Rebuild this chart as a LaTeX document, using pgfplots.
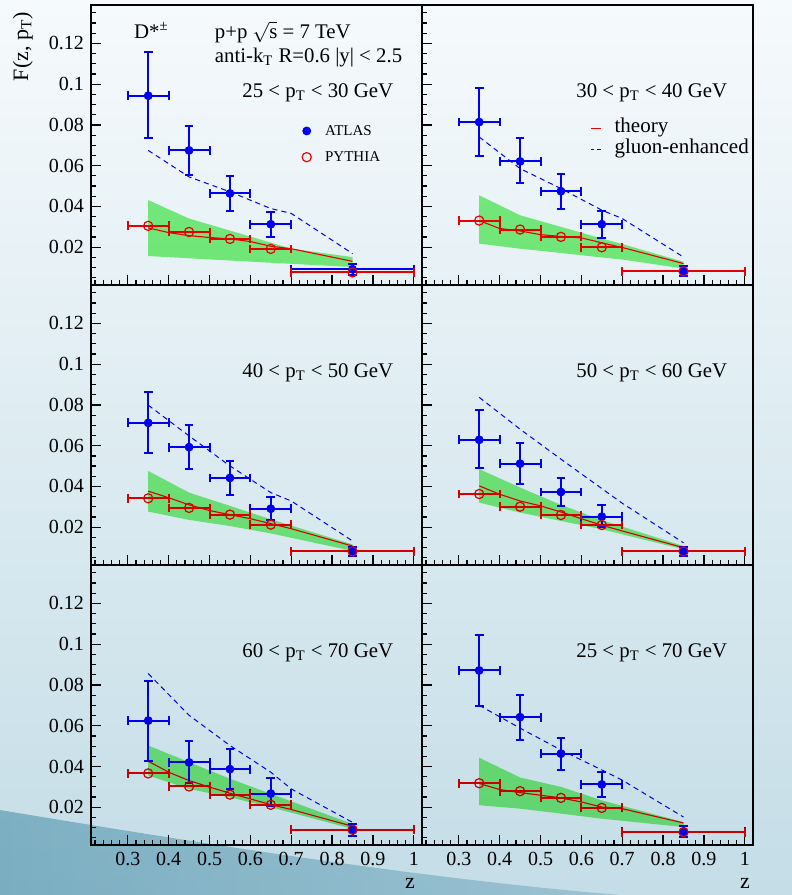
\documentclass[border=0pt]{standalone}
\usepackage{fontspec}
\setmainfont{Liberation Serif}
\usepackage{pgfplots}
\pgfplotsset{compat=1.18}
\usepgfplotslibrary{fillbetween}
\definecolor{bandgreen}{RGB}{125,243,125}
\definecolor{bgtop}{RGB}{246,250,252}
\definecolor{bgmid}{RGB}{234,243,247}
\definecolor{bgbot}{RGB}{196,221,231}
\definecolor{tealA}{RGB}{136,188,203}
\definecolor{tealB}{RGB}{190,218,228}
\newcommand{\lbl}{\fontsize{10.4}{12}\selectfont}
\pgfplotsset{
  panel/.style={
    scale only axis, width=165.5pt, height=140pt, anchor=north west,
    xmin=0.21, xmax=1.02, ymin=0.0015, ymax=0.1388,
    xtick={0.3,0.4,0.5,0.6,0.7,0.8,0.9,1.0},
    minor xtick={0.22,0.24,...,1.01},
    ytick={0.02,0.04,0.06,0.08,0.1,0.12},
    minor ytick={0.005,0.01,...,0.136},
    tick pos=left, tick align=inside,
    major tick length=5pt, minor tick length=2.5pt,
    every tick/.style={black, line width=0.6pt},
    axis line style={line width=1pt},
    /pgf/number format/assume math mode=true,
    /pgf/number format/fixed,
    /pgf/number format/precision=2,
    tick label style={font=\fontsize{10}{12}\selectfont},
  },
  atlas/.style={only marks, mark=*, mark size=2pt, color=blue, mark options={fill=blue},
    error bars/x dir=both, error bars/x explicit, error bars/y dir=both, error bars/y explicit,
    error bars/error bar style={line width=1pt},
    error bars/error mark=-,
    error bars/error mark options={rotate=90, mark size=2.2pt, line width=1pt}},
  pythia/.style={only marks, mark=o, mark size=2.3pt, color=red, mark options={line width=0.6pt, fill=none},
    error bars/x dir=both, error bars/x explicit,
    error bars/error bar style={line width=1pt},
    error bars/error mark=-,
    error bars/error mark options={rotate=90, mark size=2.2pt, line width=1pt}},
  theory/.style={red, line width=0.55pt, no marks},
  gluon/.style={blue, line width=0.5pt, dash pattern=on 2.6pt off 2pt, no marks},
  band/.style={fill=bandgreen, draw=none},
  mklegend/.style={legend image code/.code={\path (0pt,0pt) (16pt,0pt); \draw[##1] plot coordinates {(8pt,0pt)};}},
  lnlegend/.style={legend image code/.code={\path (0pt,0pt) (10.5pt,0pt); \draw[##1] (0pt,0pt) -- (5pt,0pt);}},
  gllegend/.style={legend image code/.code={\path (0pt,0pt) (10.5pt,0pt); \draw[##1, dash pattern=on 1.6pt off 1.6pt] (0pt,0pt) -- (4.8pt,0pt);}},
}
\begin{document}
\begin{tikzpicture}

% ---------- Panel A: 25-30 ----------
\begin{axis}[panel, at={(45.5pt,-2.5pt)}, xticklabels={},
  legend style={at={(rel axis cs:0.601,0.589)}, anchor=north west, draw=none, fill=none, inner sep=0pt,
    font=\fontsize{7.5}{9}\selectfont, row sep=2.6pt, nodes={inner sep=1pt, text height=0.65em, text depth=0.2em}},
  legend cell align=left]
\addplot[name path=hiA, draw=none, forget plot] table[x=x,y=hi] {
x lo hi
0.35 0.0157 0.0431
0.45 0.0146 0.0341
0.55 0.0135 0.0282
0.65 0.0124 0.0223
0.70 0.0119 0.0193
0.85 0.0103 0.0152
};
\addplot[name path=loA, draw=none, forget plot] table[x=x,y=lo] {
x lo hi
0.35 0.0157 0.0431
0.45 0.0146 0.0341
0.55 0.0135 0.0282
0.65 0.0124 0.0223
0.70 0.0119 0.0193
0.85 0.0103 0.0152
};
\addplot[band, forget plot] fill between[of=hiA and loA];
\addplot[theory, forget plot] table {
0.35 0.0295
0.40 0.0272
0.45 0.0257
0.50 0.0248
0.55 0.0241
0.60 0.0228
0.65 0.0205
0.70 0.0193
0.85 0.0131
};
\addplot[gluon, forget plot] table {
0.35 0.0675
0.45 0.0545
0.55 0.0472
0.65 0.0390
0.70 0.0366
0.85 0.0169
};
\addplot[atlas, mklegend] table[x=x,y=y,x error=ex,y error plus=ep,y error minus=em] {
x y ex ep em
0.35 0.0943 0.05 0.0214 0.0209
0.45 0.0675 0.05 0.0122 0.0120
0.55 0.0464 0.05 0.0086 0.0086
0.65 0.0313 0.05 0.0062 0.0064
0.85 0.0092 0.15 0.0028 0.0028
};
\addlegendentry{ATLAS}
\addplot[pythia, mklegend] table[x=x,y=y,x error=ex] {
x y ex
0.35 0.0305 0.05
0.45 0.0275 0.05
0.55 0.0241 0.05
0.65 0.0192 0.05
0.85 0.0077 0.15
};
\addlegendentry{PYTHIA}
\node[anchor=base west, font=\lbl] at (rel axis cs:0.109,0.882) {D*\textsuperscript{±}};
\node[anchor=base west, font=\lbl] at (rel axis cs:0.353,0.882) {p+p $\sqrt{\mbox{s}}$ = 7 TeV};
\node[anchor=base west, font=\lbl] at (rel axis cs:0.353,0.793) {anti-k\textsubscript{T} R=0.6 |y| < 2.5};
\node[anchor=base east, font=\lbl] at (rel axis cs:0.934,0.671) {25 < p\textsubscript{T} < 30 GeV};
\end{axis}

% ---------- Panel B: 30-40 ----------
\begin{axis}[panel, at={(211pt,-2.5pt)}, xticklabels={}, yticklabels={},
  legend style={at={(rel axis cs:0.508,0.599)}, anchor=north west, draw=none, fill=none, inner sep=0pt,
    font=\fontsize{10.5}{12}\selectfont, row sep=0pt, nodes={inner sep=1pt, text height=0.65em, text depth=0.2em}},
  legend cell align=left]
\addplot[name path=hiB, draw=none, forget plot] table[x=x,y=hi] {
x lo hi
0.35 0.0218 0.0455
0.45 0.0193 0.0357
0.55 0.0172 0.0300
0.65 0.0150 0.0243
0.70 0.0140 0.0216
0.85 0.0096 0.0129
};
\addplot[name path=loB, draw=none, forget plot] table[x=x,y=lo] {
x lo hi
0.35 0.0218 0.0455
0.45 0.0193 0.0357
0.55 0.0172 0.0300
0.65 0.0150 0.0243
0.70 0.0140 0.0216
0.85 0.0096 0.0129
};
\addplot[band, forget plot] fill between[of=hiB and loB];
\addplot[theory, lnlegend] table {
0.35 0.0331
0.40 0.0292
0.45 0.0280
0.50 0.0262
0.55 0.0253
0.60 0.0246
0.65 0.0222
0.70 0.0199
0.85 0.0120
};
\addlegendentry{theory}
\addplot[gluon, gllegend] table {
0.35 0.0741
0.45 0.0586
0.55 0.0488
0.65 0.0382
0.70 0.0341
0.85 0.0152
};
\addlegendentry{gluon-enhanced}
\addplot[atlas, forget plot] table[x=x,y=y,x error=ex,y error plus=ep,y error minus=em] {
x y ex ep em
0.35 0.0814 0.05 0.0168 0.0166
0.45 0.0621 0.05 0.0113 0.0108
0.55 0.0475 0.05 0.0083 0.0085
0.65 0.0313 0.05 0.0067 0.0069
0.85 0.0082 0.15 0.0025 0.0025
};
\addplot[pythia, forget plot] table[x=x,y=y,x error=ex] {
x y ex
0.35 0.0331 0.05
0.45 0.0287 0.05
0.55 0.0251 0.05
0.65 0.0200 0.05
0.85 0.0082 0.15
};
\node[anchor=base east, font=\lbl] at (rel axis cs:0.943,0.671) {30 < p\textsubscript{T} < 40 GeV};
\end{axis}

% ---------- Panel C: 40-50 ----------
\begin{axis}[panel, at={(45.5pt,-142.5pt)}, xticklabels={}]
\addplot[name path=hiC, draw=none, forget plot] table[x=x,y=hi] {
x lo hi
0.35 0.0277 0.0476
0.45 0.0236 0.0370
0.55 0.0206 0.0305
0.65 0.0170 0.0239
0.85 0.0084 0.0116
};
\addplot[name path=loC, draw=none, forget plot] table[x=x,y=lo] {
x lo hi
0.35 0.0277 0.0476
0.45 0.0236 0.0370
0.55 0.0206 0.0305
0.65 0.0170 0.0239
0.85 0.0084 0.0116
};
\addplot[band, forget plot] fill between[of=hiC and loC];
\addplot[theory, forget plot] table {
0.35 0.0377
0.40 0.0345
0.45 0.0310
0.50 0.0282
0.55 0.0262
0.60 0.0242
0.65 0.0218
0.70 0.0193
0.85 0.0108
};
\addplot[gluon, forget plot] table {
0.35 0.0799
0.45 0.0648
0.55 0.0501
0.65 0.0370
0.70 0.0329
0.85 0.0133
};
\addplot[atlas, forget plot] table[x=x,y=y,x error=ex,y error plus=ep,y error minus=em] {
x y ex ep em
0.35 0.0712 0.05 0.0152 0.0150
0.45 0.0593 0.05 0.0108 0.0108
0.55 0.0442 0.05 0.0084 0.0083
0.65 0.0291 0.05 0.0059 0.0055
0.85 0.0082 0.15 0.0022 0.0022
};
\addplot[pythia, forget plot] table[x=x,y=y,x error=ex] {
x y ex
0.35 0.0342 0.05
0.45 0.0295 0.05
0.55 0.0262 0.05
0.65 0.0213 0.05
0.85 0.0082 0.15
};
\node[anchor=base east, font=\lbl] at (rel axis cs:0.934,0.668) {40 < p\textsubscript{T} < 50 GeV};
\end{axis}

% ---------- Panel D: 50-60 ----------
\begin{axis}[panel, at={(211pt,-142.5pt)}, xticklabels={}, yticklabels={}]
\addplot[name path=hiD, draw=none, forget plot] table[x=x,y=hi] {
x lo hi
0.35 0.0321 0.0485
0.45 0.0272 0.0395
0.55 0.0231 0.0310
0.65 0.0190 0.0235
0.85 0.0092 0.0108
};
\addplot[name path=loD, draw=none, forget plot] table[x=x,y=lo] {
x lo hi
0.35 0.0321 0.0485
0.45 0.0272 0.0395
0.55 0.0231 0.0310
0.65 0.0190 0.0235
0.85 0.0092 0.0108
};
\addplot[band, forget plot] fill between[of=hiD and loD];
\addplot[theory, forget plot] table {
0.35 0.0403
0.40 0.0362
0.45 0.0329
0.50 0.0305
0.55 0.0275
0.60 0.0242
0.65 0.0210
0.70 0.0182
0.85 0.0100
};
\addplot[gluon, forget plot] table {
0.35 0.0837
0.45 0.0681
0.55 0.0534
0.65 0.0390
0.70 0.0318
0.85 0.0124
};
\addplot[atlas, forget plot] table[x=x,y=y,x error=ex,y error plus=ep,y error minus=em] {
x y ex ep em
0.35 0.0629 0.05 0.0145 0.0139
0.45 0.0512 0.05 0.0102 0.0099
0.55 0.0373 0.05 0.0067 0.0068
0.65 0.0252 0.05 0.0056 0.0052
0.85 0.0082 0.15 0.0022 0.0022
};
\addplot[pythia, forget plot] table[x=x,y=y,x error=ex] {
x y ex
0.35 0.0363 0.05
0.45 0.0301 0.05
0.55 0.0260 0.05
0.65 0.0211 0.05
0.85 0.0082 0.15
};
\node[anchor=base east, font=\lbl] at (rel axis cs:0.943,0.668) {50 < p\textsubscript{T} < 60 GeV};
\end{axis}

% ---------- Panel E: 60-70 ----------
\begin{axis}[panel, at={(45.5pt,-282.5pt)}]
\addplot[name path=hiE, draw=none, forget plot] table[x=x,y=hi] {
x lo hi
0.35 0.0356 0.0503
0.45 0.0290 0.0421
0.55 0.0249 0.0340
0.65 0.0200 0.0266
0.85 0.0094 0.0118
};
\addplot[name path=loE, draw=none, forget plot] table[x=x,y=lo] {
x lo hi
0.35 0.0356 0.0503
0.45 0.0290 0.0421
0.55 0.0249 0.0340
0.65 0.0200 0.0266
0.85 0.0094 0.0118
};
\addplot[band, forget plot] fill between[of=hiE and loE];
\addplot[theory, forget plot] table {
0.35 0.0426
0.40 0.0372
0.45 0.0331
0.50 0.0299
0.55 0.0269
0.60 0.0241
0.65 0.0213
0.70 0.0189
0.85 0.0107
};
\addplot[gluon, forget plot] table {
0.35 0.0856
0.45 0.0651
0.55 0.0503
0.65 0.0372
0.70 0.0290
0.85 0.0126
};
\addplot[atlas, forget plot] table[x=x,y=y,x error=ex,y error plus=ep,y error minus=em] {
x y ex ep em
0.35 0.0625 0.05 0.0195 0.0197
0.45 0.0420 0.05 0.0105 0.0100
0.55 0.0387 0.05 0.0097 0.0097
0.65 0.0267 0.05 0.0079 0.0060
0.85 0.0090 0.15 0.0028 0.0032
};
\addplot[pythia, forget plot] table[x=x,y=y,x error=ex] {
x y ex
0.35 0.0366 0.05
0.45 0.0302 0.05
0.55 0.0262 0.05
0.65 0.0212 0.05
0.85 0.0090 0.15
};
\node[anchor=base east, font=\lbl] at (rel axis cs:0.934,0.668) {60 < p\textsubscript{T} < 70 GeV};
\end{axis}

% ---------- Panel F: 25-70 ----------
\begin{axis}[panel, at={(211pt,-282.5pt)}, yticklabels={}]
\addplot[name path=hiF, draw=none, forget plot] table[x=x,y=hi] {
x lo hi
0.35 0.0210 0.0443
0.45 0.0193 0.0346
0.55 0.0169 0.0300
0.65 0.0144 0.0234
0.85 0.0103 0.0127
};
\addplot[name path=loF, draw=none, forget plot] table[x=x,y=lo] {
x lo hi
0.35 0.0210 0.0443
0.45 0.0193 0.0346
0.55 0.0169 0.0300
0.65 0.0144 0.0234
0.85 0.0103 0.0127
};
\addplot[band, forget plot] fill between[of=hiF and loF];
\addplot[theory, forget plot] table {
0.35 0.0317
0.40 0.0287
0.45 0.0272
0.50 0.0259
0.55 0.0246
0.60 0.0226
0.65 0.0201
0.70 0.0193
0.85 0.0123
};
\addplot[gluon, forget plot] table {
0.35 0.0700
0.45 0.0588
0.55 0.0481
0.65 0.0383
0.70 0.0333
0.85 0.0152
};
\addplot[atlas, forget plot] table[x=x,y=y,x error=ex,y error plus=ep,y error minus=em] {
x y ex ep em
0.35 0.0871 0.05 0.0174 0.0173
0.45 0.0642 0.05 0.0107 0.0112
0.55 0.0463 0.05 0.0079 0.0081
0.65 0.0312 0.05 0.0062 0.0064
0.85 0.0081 0.15 0.0025 0.0025
};
\addplot[pythia, forget plot] table[x=x,y=y,x error=ex] {
x y ex
0.35 0.0318 0.05
0.45 0.0279 0.05
0.55 0.0246 0.05
0.65 0.0197 0.05
0.85 0.0078 0.15
};
\node[anchor=base east, font=\lbl] at (rel axis cs:0.943,0.668) {25 < p\textsubscript{T} < 70 GeV};
\end{axis}

\node[rotate=90, anchor=base east, font=\fontsize{11}{13}\selectfont] at (14pt,-2.5pt) {F(z, p\textsubscript{T})};
\node[font=\fontsize{11}{13}\selectfont] at (205pt,-441.5pt) {z};
\node[font=\fontsize{11}{13}\selectfont] at (372.5pt,-441.5pt) {z};
\begin{scope}[blend mode=multiply]
\shade[top color=bgtop, middle color=bgmid, bottom color=bgbot] (0,0) rectangle (396pt,-447.5pt);
\shade[left color=tealA, right color=tealB, opacity=0.8] (0,-405pt) .. controls (120pt,-425pt) and (220pt,-440pt) .. (310pt,-447.5pt) -- (0,-447.5pt) -- cycle;
\end{scope}
\pgfresetboundingbox
\path[use as bounding box] (0,0) rectangle (396pt,-447.5pt);
\end{tikzpicture}
\end{document}
